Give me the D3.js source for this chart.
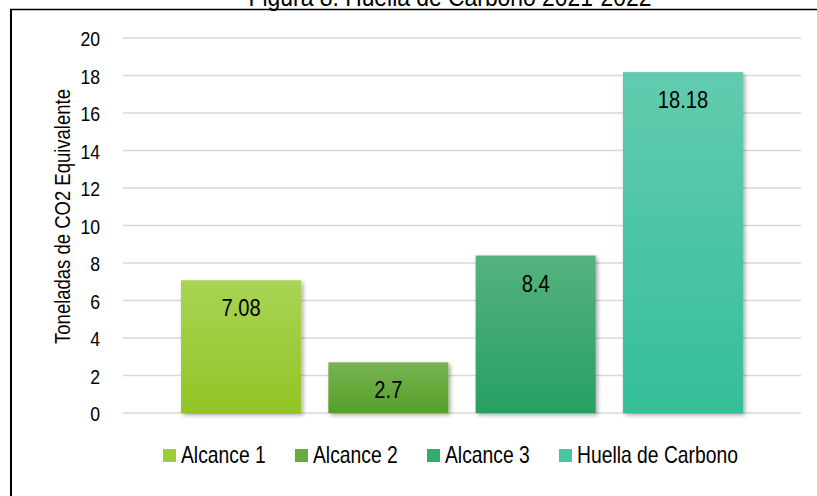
<!DOCTYPE html>
<html>
<head>
<meta charset="utf-8">
<script src="https://cdn.jsdelivr.net/npm/d3@7"></script>
<style>
  html, body { margin: 0; padding: 0; background: #fff; }
  svg { display: block; font-family: "Liberation Sans", Arial, sans-serif; }
</style>
</head>
<body>
<svg id="chart" width="817" height="496"></svg>
<script>
// Emisiones por alcance (t CO2e)
const categories = ["Alcance 1", "Alcance 2", "Alcance 3", "Huella de Carbono"];
const values = [7.08, 2.7, 8.4, 18.18];
const yTicks = [0, 2, 4, 6, 8, 10, 12, 14, 16, 18, 20];
const colorsTop = ["#a8d455", "#78b352", "#55b27d", "#62cbae"];
const colorsBottom = ["#92c524", "#55a029", "#27a062", "#35bf99"];
const legendColors = ["#9ccd38", "#66a93e", "#36a96c", "#47c4a2"];
const titleText = "Figura 8. Huella de Carbono 2021-2022";
const yTitle = "Toneladas de CO2 Equivalente";

const svg = d3.select("#chart");
const margin = { left: 123, right: 16, top: 38, bottom: 83 };
const W = 817, H = 496;
const narrow = 0.84; // horizontal squeeze for a condensed face

const x = d3.scaleBand()
  .domain(categories)
  .range([margin.left, W - margin.right])
  .paddingInner(0.185)
  .paddingOuter(0.394);

const y = d3.scaleLinear()
  .domain([0, 20])
  .range([H - margin.bottom, margin.top]);

const defs = svg.append("defs");
categories.forEach((c, i) => {
  const g = defs.append("linearGradient")
    .attr("id", "grad" + i)
    .attr("x1", 0).attr("y1", 0).attr("x2", 0).attr("y2", 1);
  g.append("stop").attr("offset", "0%").attr("stop-color", colorsTop[i]);
  g.append("stop").attr("offset", "100%").attr("stop-color", colorsBottom[i]);
});
const shadow = defs.append("filter").attr("id", "shadow")
  .attr("x", "-20%").attr("y", "-20%").attr("width", "140%").attr("height", "140%");
shadow.append("feDropShadow")
  .attr("dx", 2).attr("dy", 2).attr("stdDeviation", 2)
  .attr("flood-color", "#000").attr("flood-opacity", 0.35);

// frame
svg.append("line").attr("x1", 10).attr("x2", W).attr("y1", 9.5).attr("y2", 9.5)
  .attr("stroke", "#000").attr("stroke-width", 1.5);
svg.append("line").attr("x1", 11).attr("x2", 11).attr("y1", 9).attr("y2", H)
  .attr("stroke", "#000").attr("stroke-width", 2);

// helper: condensed text at (tx, ty)
function narrowText(parent, tx, ty, size, anchor, str) {
  return parent.append("text")
    .attr("transform", `translate(${tx},${ty}) scale(${narrow},1)`)
    .attr("text-anchor", anchor)
    .attr("font-size", size)
    .attr("fill", "#000")
    .text(str);
}

// title (partly above the page edge)
svg.append("text")
  .attr("transform", `translate(450,6) scale(0.88,1)`)
  .attr("text-anchor", "middle")
  .attr("font-size", 26)
  .attr("fill", "#000")
  .text(titleText);

// gridlines
svg.append("g")
  .selectAll("line")
  .data(yTicks)
  .join("line")
  .attr("x1", margin.left).attr("x2", W - margin.right)
  .attr("y1", d => y(d)).attr("y2", d => y(d))
  .attr("stroke", "#d9d9d9").attr("stroke-width", 1.5);

// y axis labels
const yAxis = d3.axisLeft(y).tickValues(yTicks).tickSize(0).tickPadding(0);
const yg = svg.append("g").attr("transform", `translate(100,0)`).call(yAxis);
yg.select(".domain").remove();
yg.selectAll("text")
  .attr("x", 0)
  .attr("font-size", 21).attr("fill", "#000")
  .attr("font-family", "'Liberation Sans', Arial, sans-serif")
  .attr("dy", "0.36em")
  .attr("transform", `scale(${narrow},1)`);

// y axis title
svg.append("text")
  .attr("transform", `translate(70,${(y(0) + y(20)) / 2 - 9}) rotate(-90) scale(${narrow + 0.02},1)`)
  .attr("text-anchor", "middle")
  .attr("font-size", 21.5)
  .attr("fill", "#000")
  .text(yTitle);

// bars
svg.append("g")
  .selectAll("rect")
  .data(values)
  .join("rect")
  .attr("x", (d, i) => x(categories[i]))
  .attr("width", x.bandwidth())
  .attr("y", d => y(d))
  .attr("height", d => y(0) - y(d))
  .attr("fill", (d, i) => `url(#grad${i})`)
  .attr("filter", "url(#shadow)");

// value labels
const vg = svg.append("g");
values.forEach((d, i) => {
  narrowText(vg, x(categories[i]) + x.bandwidth() / 2, y(d) + 36, 24, "middle", String(d));
});

// legend
const legendX = [163, 295, 427, 559];
const lg = svg.append("g");
categories.forEach((c, i) => {
  lg.append("rect")
    .attr("x", legendX[i]).attr("y", 449)
    .attr("width", 13).attr("height", 13)
    .attr("fill", legendColors[i]);
  narrowText(lg, legendX[i] + 18, 463, 23, "start", c);
});
</script>
</body>
</html>
